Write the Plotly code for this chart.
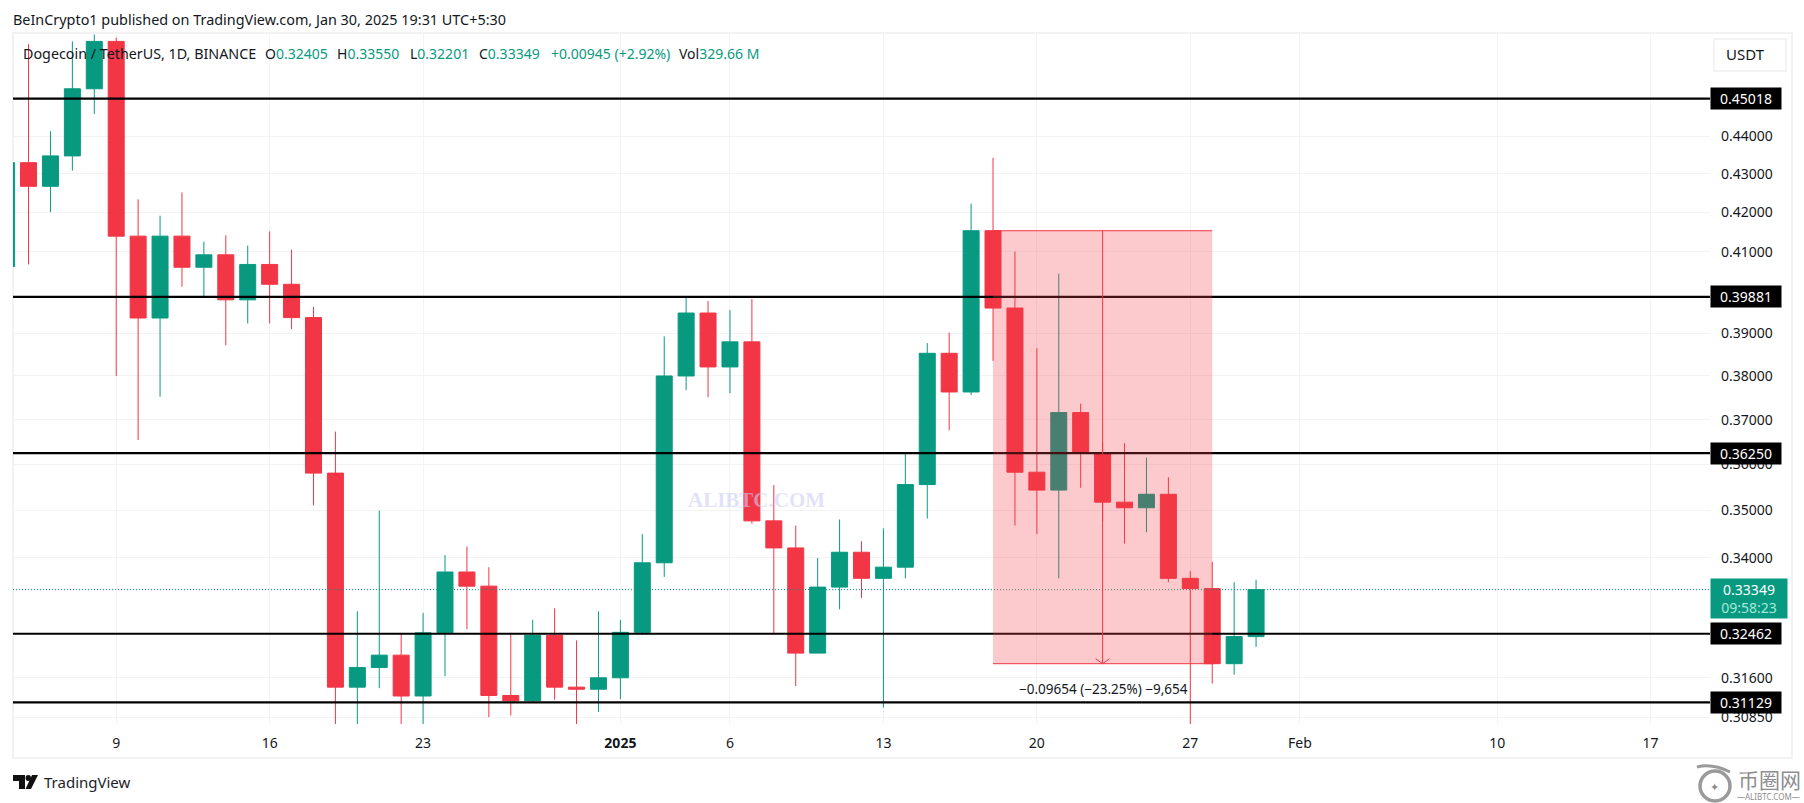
import math
import pandas as pd
import plotly.graph_objects as go

# daily candles, Dec 4 2024 -> Jan 30 2025
dates = pd.date_range("2024-12-04", periods=58, freq="D")
opens = [.4063, .4329, .4267, .4347, .4529, .4662, .4139, .3937, .4139, .4061, .4092, .3981, .4068, .4019,
         .3938, .3581, .3142, .3180, .3204, .3125, .3248, .3371, .3342, .3126, .3116, .3243, .3142, .3138,
         .3160, .3249, .3390, .3800, .3949, .3821, .3880, .3478, .3421, .3208, .3340, .3412, .3358, .3381,
         .3556, .3853, .3763, .41527, .3961, .3583, .3544, .3716, .3625, .3518, .3506, .3535, .3358, .3337,
         .31873, .32405]
highs = [.4340, .4654, .4413, .4662, .4682, .4673, .4233, .4191, .4251, .4125, .4141, .4115, .4151, .4105,
         .3964, .3673, .3291, .3500, .3246, .3288, .3406, .3424, .3381, .3248, .3274, .3297, .3233, .3291,
         .3274, .3450, .3893, .3989, .3978, .3956, .3983, .3555, .3468, .3400, .3481, .3435, .3462, .3623,
         .3877, .3902, .4222, .4342, .4100, .3865, .4045, .3736, .3648, .3647, .3615, .3572, .3373, .3392,
         .3350, .33550]
lows = [.4050, .4068, .4200, .4308, .4460, .3800, .3654, .3752, .4013, .3989, .3872, .3924, .3924, .3910,
        .3511, .3060, .3060, .3140, .3060, .3060, .3163, .3255, .3085, .3088, .3113, .3118, .3060, .3095,
        .3119, .3244, .3361, .3767, .3751, .3760, .3472, .3245, .3144, .3208, .3295, .3318, .3103, .3358,
        .3483, .3676, .3756, .3835, .3468, .3450, .3358, .3549, .3478, .3430, .3454, .3350, .3060, .3149,
        .3166, .32201]
closes = [.4329, .4267, .4347, .4529, .4662, .4139, .3937, .4139, .4061, .4092, .3981, .4068, .4019, .3938,
          .3581, .3142, .3180, .3204, .3125, .3248, .3371, .3342, .3126, .3116, .3243, .3142, .3138, .3160,
          .3249, .3390, .3800, .3949, .3821, .3880, .3478, .3421, .3208, .3340, .3412, .3358, .3381, .3556,
          .3853, .3763, .41527, .3961, .3583, .3544, .3716, .3625, .3518, .3506, .3535, .3358, .3337, .31873,
          .32405, .33349]

levels = [0.45018, 0.39881, 0.36250, 0.32462, 0.31129]
last_price = 0.33349
price_ticks = [0.44, 0.43, 0.42, 0.41, 0.39, 0.38, 0.37, 0.36, 0.35, 0.34, 0.316, 0.3085]
date_ticks = ["2024-12-09", "2024-12-16", "2024-12-23", "2025-01-01", "2025-01-06", "2025-01-13",
              "2025-01-20", "2025-01-27", "2025-02-01", "2025-02-10", "2025-02-17"]
date_labels = ["9", "16", "23", "<b>2025</b>", "6", "13", "20", "27", "Feb", "10", "17"]

# the short position / price range drawing
range_start, range_end, range_mid = "2025-01-18", "2025-01-28", "2025-01-23"
range_top, range_bottom = 0.41527, 0.31873

x_start, x_end = "2024-12-04 07:00", "2025-02-19 17:00"
y_low, y_high = 0.3072, 0.4686

GREEN = "#089981"
RED = "#f23645"
INK = "#131722"
GRID = "#f3f3f3"
FONT = "Noto Sans"

# plot area in page pixels
LEFT, RIGHT, TOP, BOTTOM = 13, 1710, 33, 724


def px(x):
    return (x - LEFT) / (RIGHT - LEFT)


def py(y):
    return (BOTTOM - y) / (BOTTOM - TOP)


fig = go.Figure()

# levels go under the candles
for lvl in levels:
    fig.add_trace(go.Scatter(x=[x_start, x_end], y=[lvl, lvl], mode="lines",
                             line=dict(color="black", width=2.2), hoverinfo="skip"))
fig.add_trace(go.Scatter(x=[x_start, x_end], y=[last_price, last_price], mode="lines",
                         line=dict(color=GREEN, width=1, dash="1px 2px"), hoverinfo="skip"))

fig.add_trace(go.Candlestick(
    x=dates, open=opens, high=highs, low=lows, close=closes,
    increasing=dict(line=dict(color=GREEN, width=1), fillcolor=GREEN),
    decreasing=dict(line=dict(color=RED, width=1), fillcolor=RED),
    whiskerwidth=0,
))

fig.update_layout(
    width=1804, height=803,
    margin=dict(l=LEFT, r=1804 - RIGHT, t=TOP, b=803 - BOTTOM, autoexpand=False),
    paper_bgcolor="white", plot_bgcolor="white",
    showlegend=False, boxgap=0.27, boxgroupgap=0,
    font=dict(family=FONT, color=INK, size=14),
    xaxis=dict(type="date", range=[x_start, x_end], tickvals=date_ticks, ticktext=date_labels,
               rangeslider=dict(visible=False), showgrid=True, gridcolor=GRID, gridwidth=1,
               zeroline=False, showline=False, ticks="", ticklabelstandoff=9,
               tickfont=dict(size=14, color=INK)),
    yaxis=dict(type="log", side="right", range=[math.log10(y_low), math.log10(y_high)],
               tickvals=price_ticks, ticktext=[f"{v:.5f}" for v in price_ticks],
               showgrid=True, gridcolor=GRID, gridwidth=1, zeroline=False, showline=False,
               ticks="", ticklabelstandoff=10, tickfont=dict(size=14, color=INK)),
)

# outer frame of the chart and the pane/price axis
fig.add_shape(type="rect", xref="paper", yref="paper", x0=px(13), x1=px(1792), y0=py(758), y1=py(33),
              line=dict(color="#f2f2f2", width=2), layer="below")

# range box sits above the candles, that is why the green ones look dull in it
fig.add_shape(type="rect", x0=range_start, x1=range_end, y0=range_bottom, y1=range_top,
              fillcolor="rgba(243,60,72,0.28)", line=dict(width=0), layer="above")
for edge in [range_top, range_bottom]:
    fig.add_shape(type="line", x0=range_start, x1=range_end, y0=edge, y1=edge,
                  line=dict(color=RED, width=1), layer="above")
fig.add_shape(type="line", x0=range_mid, x1=range_mid, y0=range_bottom, y1=range_top,
              line=dict(color=RED, width=1), layer="above")
# flat arrow head, sized in pixels from the tip
for side in [-7, 7]:
    fig.add_shape(type="line", xref="x", yref="y", xsizemode="pixel", ysizemode="pixel",
                  xanchor=range_mid, yanchor=range_bottom, x0=side, x1=0, y0=5, y1=0,
                  line=dict(color=RED, width=1), layer="above")
fig.add_annotation(x=range_mid, y=py(689), xref="x", yref="paper", showarrow=False, xshift=1,
                   yanchor="middle", xanchor="center",
                   text="\u22120.09654 (\u221223.25%) \u22129,654", font=dict(size=13.5, color=INK))


def label(text, x, y, size=14, color=INK, anchor="left", family=FONT):
    fig.add_annotation(x=px(x), y=py(y), xref="paper", yref="paper", text=text, showarrow=False,
                       xanchor=anchor, yanchor="middle", font=dict(size=size, color=color, family=family))


label("BeInCrypto1 published on TradingView.com, Jan 30, 2025 19:31 UTC+5:30", 11, 19, size=14.4)
label("Dogecoin / TetherUS, 1D, BINANCE", 21, 53, size=14.3)
for name, value, x in [("O", "0.32405", 263), ("H", "0.33550", 335), ("L", "0.32201", 408), ("C", "0.33349", 477)]:
    label(f'{name}<span style="color:{GREEN}">{value}</span>', x, 53)
label("+0.00945 (+2.92%)", 549, 53, color=GREEN)
label(f'Vol<span style="color:{GREEN}">329.66 M</span>', 677, 53)

# USDT button
fig.add_shape(type="rect", xref="paper", yref="paper", x0=px(1714), x1=px(1786), y0=py(71), y1=py(39),
              line=dict(color="#f0f0f0", width=1.5), fillcolor="white")
label("USDT", 1724, 54, size=15)

# level tags on the price axis
for lvl in levels:
    fig.add_annotation(x=1, xref="paper", y=math.log10(lvl), yref="y", xanchor="left", yanchor="middle",
                       text=f"{lvl:.5f}", showarrow=False, width=70, height=21, bgcolor="black",
                       align="center", borderpad=0, font=dict(size=14, color="white"))

# last price tag with countdown
fig.add_annotation(x=1, xref="paper", y=py(598), yref="paper", xanchor="left", yanchor="middle",
                   text=f'{last_price:.5f}<br><span style="color:#a6e8da">09:58:23</span>',
                   showarrow=False, width=76, height=39, bgcolor=GREEN, align="center", borderpad=0,
                   font=dict(size=14, color="white"))

# watermark in the middle of the pane
label("<b>ALIBTC.COM</b>", 756, 500, size=21, color="rgba(205,205,245,0.6)", anchor="center",
      family="Liberation Serif")

# TradingView footer
logo = (f"M{px(13)},{py(775)} L{px(25)},{py(775)} L{px(25)},{py(789)} L{px(19)},{py(789)} "
        f"L{px(19)},{py(781)} L{px(13)},{py(781)} Z")
slash = (f"M{px(32)},{py(775)} L{px(38)},{py(775)} L{px(31)},{py(789)} L{px(25.5)},{py(789)} Z")
for path in [logo, slash]:
    fig.add_shape(type="path", xref="paper", yref="paper", path=path, fillcolor="#111111", line=dict(width=0))
fig.add_shape(type="circle", xref="paper", yref="paper", x0=px(25.5), x1=px(31), y0=py(781), y1=py(775),
              fillcolor="#111111", line=dict(width=0))
label("TradingView", 42, 782, size=15, color="#1b1e28")

# 币圈网 stamp, bottom right
fig.add_shape(type="circle", xref="paper", yref="paper", x0=px(1700), x1=px(1730), y0=py(801), y1=py(771),
              line=dict(color="#9a9a9a", width=3.5))
fig.add_shape(type="path", xref="paper", yref="paper",
              path=f"M{px(1697)},{py(767)} Q{px(1712)},{py(763)} {px(1730)},{py(772)}",
              line=dict(color="#9a9a9a", width=3))
label("\u2726", 1715, 786, size=11, color="#8c8c8c", anchor="center")
label("币圈网", 1736, 779, size=21, color="#8e8e8e", family="Noto Sans CJK SC")
label("\u2014ALIBTC.COM\u2014", 1735, 796, size=8, color="#8e8e8e")

fig.write_html("out.html", config=dict(displayModeBar=False),
               post_script="document.body.style.margin='0';")
